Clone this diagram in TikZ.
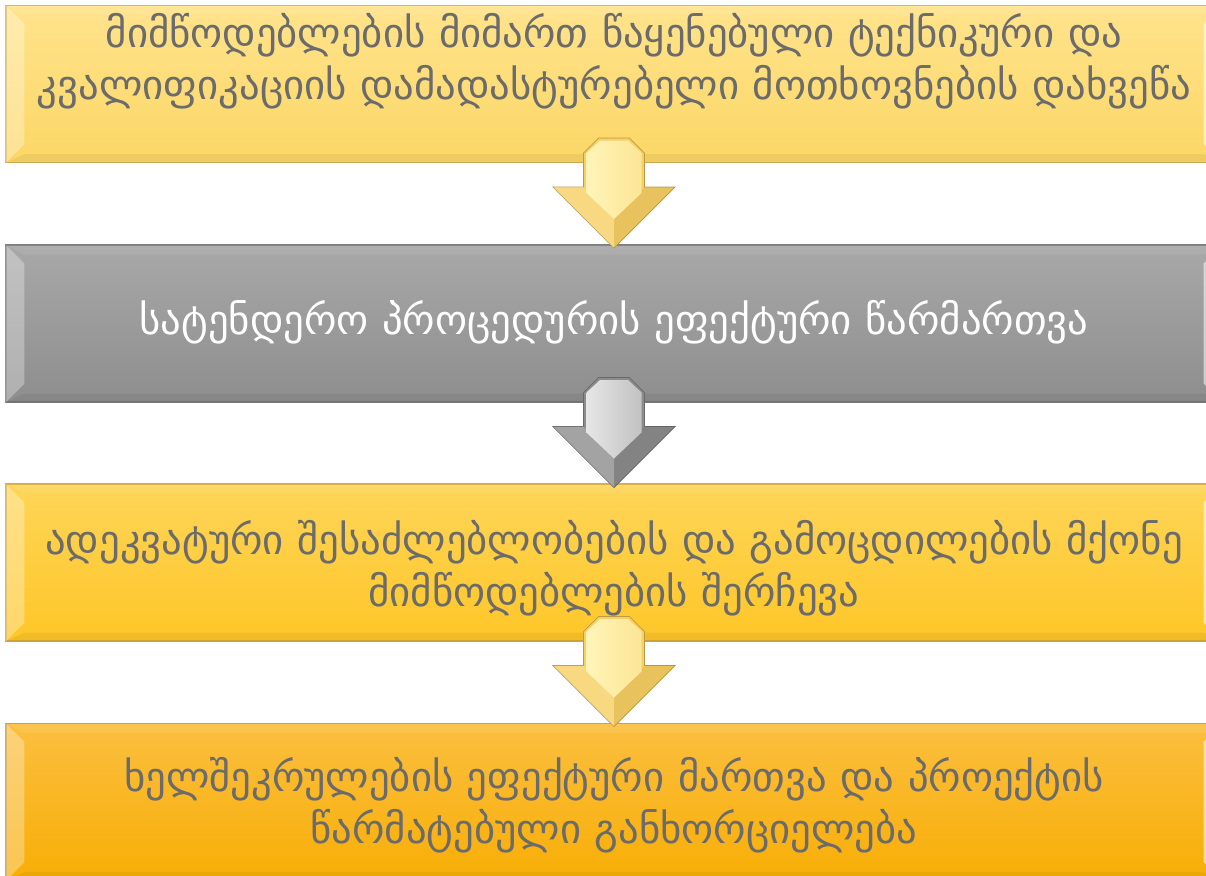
\documentclass[tikz,border=0pt]{standalone}
\usepackage{fontspec}
\usepackage{xcolor}
\usepackage{tikz}
\usetikzlibrary{shapes,arrows,positioning,calc}
\newfontfamily\geofont{DejaVu Sans}

\definecolor{goldtop}{HTML}{FFE38C}
\definecolor{goldbot}{HTML}{FCD766}
\definecolor{goldedge}{HTML}{D8B35A}
\definecolor{greytop}{HTML}{A8A8A8}
\definecolor{greybot}{HTML}{8E8E8E}
\definecolor{greyedge}{HTML}{7A7A7A}
\definecolor{suntop}{HTML}{FED558}
\definecolor{sunbot}{HTML}{FEC628}
\definecolor{sunedge}{HTML}{D9A93A}
\definecolor{ambertop}{HTML}{FBBF40}
\definecolor{amberbot}{HTML}{F8AE06}
\definecolor{amberedge}{HTML}{C99A3A}
\definecolor{textgrey}{HTML}{6B6B6B}
\definecolor{arrgold}{HTML}{F7D063}
\definecolor{arrgoldlight}{HTML}{FFF4B8}
\definecolor{arrgrey}{HTML}{8C8C8C}
\definecolor{arrgreylight}{HTML}{E6E6E6}

\begin{document}
\begin{tikzpicture}[
        stepbox/.style={rectangle, draw=#1, line width=0.6pt, minimum width=24.32cm, minimum height=3.14cm, inner sep=0pt},
        steptext/.style={text width=23.8cm, align=center, text=textgrey, font=\geofont\fontsize{23.2}{29.5}\selectfont},
        bevel/.style={fill=white, opacity=#1}
    ]
        \useasboundingbox (0,0) rectangle (24.12,-17.52);

        % Boxes
        \node[stepbox=goldedge, top color=goldtop, bottom color=goldbot] (b1) at (12.28,-1.68) {};
        \node[stepbox=greyedge, top color=greytop, bottom color=greybot] (b2) at (12.28,-6.47) {};
        \node[stepbox=sunedge, top color=suntop, bottom color=sunbot] (b3) at (12.28,-11.25) {};
        \node[stepbox=amberedge, top color=ambertop, bottom color=amberbot] (b4) at (12.28,-16.04) {};

        % Bevelled edges
        \foreach \b in {b1,b2,b3,b4} {
            \fill[bevel=0.3] (\b.south west) -- (\b.north west) -- ($(\b.north west)+(0.38,-0.38)$) -- ($(\b.south west)+(0.38,0.38)$) -- cycle;
            \fill[bevel=0.55] (\b.south east) -- (\b.north east) -- ($(\b.north east)+(-0.38,-0.38)$) -- ($(\b.south east)+(-0.38,0.38)$) -- cycle;
            \fill[bevel=0.08] (\b.north west) -- (\b.north east) -- ($(\b.north east)+(-0.38,-0.2)$) -- ($(\b.north west)+(0.38,-0.2)$) -- cycle;
            \fill[black, opacity=0.05] (\b.south west) -- (\b.south east) -- ($(\b.south east)+(-0.38,0.18)$) -- ($(\b.south west)+(0.38,0.18)$) -- cycle;
        }

        % Labels
        \node[steptext] (t1) at (12.28,-1.22) {მიმწოდებლების მიმართ წაყენებული ტექნიკური და\\კვალიფიკაციის დამადასტურებელი მოთხოვნების დახვეწა};
        \node[steptext, text=white] (t2) at (12.28,-6.44) {სატენდერო პროცედურის ეფექტური წარმართვა};
        \node[steptext] (t3) at (12.28,-11.36) {ადეკვატური შესაძლებლობების და გამოცდილების მქონე\\მიმწოდებლების შერჩევა};
        \node[steptext] (t4) at (12.28,-16.1) {ხელშეკრულების ეფექტური მართვა და პროექტის\\წარმატებული განხორციელება};

        % Arrows
        \foreach \from/\base/\shine in {b1/arrgold/arrgoldlight, b2/arrgrey/arrgreylight, b3/arrgold/arrgoldlight} {
            \begin{scope}[shift={(\from.south)}]
                \fill[\base, draw=\base!75!black, line width=0.4pt] (-0.61,0.2) -- (-0.31,0.5) -- (0.31,0.5) -- (0.61,0.2) -- (0.61,-0.48) -- (1.22,-0.48) -- (0,-1.7) -- (-1.22,-0.48) -- (-0.61,-0.48) -- cycle;
                \fill[white, opacity=0.2] (-1.22,-0.48) -- (-0.61,-0.48) -- (0,-1.12) -- (0,-1.7) -- cycle;
                \fill[black, opacity=0.06] (1.22,-0.48) -- (0.61,-0.48) -- (0,-1.12) -- (0,-1.7) -- cycle;
                \shade[left color=\shine, middle color=\base, right color=\shine!60!\base] (-0.55,0.2) -- (-0.28,0.45) -- (0.28,0.45) -- (0.55,0.2) -- (0.55,-0.6) -- (0,-1.12) -- (-0.55,-0.6) -- cycle;
            \end{scope}
        }
    \end{tikzpicture}
\end{document}
